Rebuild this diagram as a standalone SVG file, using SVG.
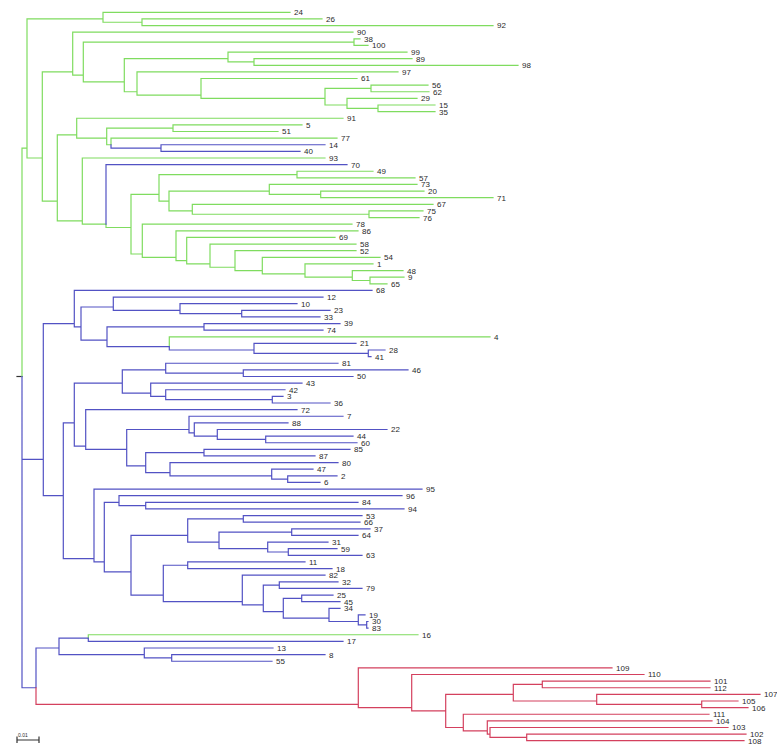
<svg xmlns="http://www.w3.org/2000/svg" width="777" height="753" viewBox="0 0 777 753">
<style>
path{fill:none;stroke-width:1.2;stroke-linecap:square}
.g{stroke:#7fdc5f}
.b{stroke:#5252c4}
.r{stroke:#d4405e}
.k{stroke:#333}
text{font-family:"Liberation Sans",Arial,sans-serif;font-size:8px;fill:#2a2a2a}
.s{font-size:5px}
</style>
<rect width="777" height="753" fill="#fff"/>
<g id="connectors">
<path class="k" d="M17,376.5H22"/>
<path class="g" d="M22,376.5V148.05H27
M27,148.05V18.92H103 M27,148.05V157.98H42.3
M103,18.92V12.3H290 M103,18.92V22.23H142
M142,22.23V18.92H322 M142,22.23V25.54H493
M42.3,157.98V71.9H72.7 M42.3,157.98V201.03H57.3
M72.7,71.9V32.17H353 M72.7,71.9V75.21H83.3
M83.3,75.21V42.1H354 M83.3,75.21V81.83H124.3
M354,42.1V38.79H360 M354,42.1V45.41H368
M124.3,81.83V58.65H228 M124.3,81.83V91.77H137
M228,58.65V52.03H407 M228,58.65V61.96H254
M254,61.96V58.65H412 M254,61.96V65.28H518
M137,91.77V71.9H398 M137,91.77V95.07H201
M201,95.07V78.52H357 M201,95.07V98.39H325
M325,98.39V88.45H371 M325,98.39V105.01H347
M371,88.45V85.14H428 M371,88.45V91.76H429
M347,105.01V98.39H417 M347,105.01V108.32H378
M378,108.32V105.01H435 M378,108.32V111.63H435
M57.3,201.03V134.8H76.7 M57.3,201.03V220.89H82.3
M76.7,134.8V118.25H343 M76.7,134.8V138.12H106.7
M106.7,138.12V128.18H173 M106.7,138.12V144.74H111
M173,128.18V124.87H302 M173,128.18V131.5H278
M111,144.74V138.12H337
M82.3,220.89V157.98H325 M82.3,220.89V224.2H106
M106,224.2V227.52H131
M131,227.52V194.4H159 M131,227.52V254H142.3
M159,194.4V174.54H297 M159,194.4V201.03H169
M297,174.54V171.23H373 M297,174.54V177.85H415
M169,201.03V191.09H269.3 M169,201.03V210.96H192.3
M269.3,191.09V184.47H417 M269.3,191.09V194.4H320.7
M320.7,194.4V191.09H424 M320.7,194.4V197.72H493
M192.3,210.96V204.34H433 M192.3,210.96V214.27H369
M369,214.27V210.96H423 M369,214.27V217.58H419
M142.3,254V224.2H352 M142.3,254V257.31H176
M176,257.31V230.83H358 M176,257.31V260.62H186.7
M186.7,260.62V237.45H335 M186.7,260.62V263.94H210
M210,263.94V244.07H356 M210,263.94V267.25H235
M235,267.25V250.69H356 M235,267.25V270.56H262.3
M262.3,270.56V257.31H380 M262.3,270.56V273.87H305
M305,273.87V263.94H373 M305,273.87V277.18H352.3
M352.3,277.18V270.56H403 M352.3,277.18V280.49H370
M370,280.49V277.18H404 M370,280.49V283.8H387
M169.3,346.71V336.78H490
M88.3,638.08V634.77H418"/>
<path class="b" d="M111,144.74V148.05H161
M161,148.05V144.74H325 M161,148.05V151.36H300
M106,224.2V164.61H347
M22,376.5V459.28H43.3
M22,376.5V687.75H36
M43.3,459.28V323.53H74.3 M43.3,459.28V495.71H63.3
M74.3,323.53V290.42H372 M74.3,323.53V326.84H81
M81,326.84V306.98H113.3 M81,326.84V340.09H107
M113.3,306.98V297.05H323 M113.3,306.98V310.29H180
M180,310.29V303.67H297 M180,310.29V313.6H241.7
M241.7,313.6V310.29H330 M241.7,313.6V316.91H320
M107,340.09V326.84H204 M107,340.09V346.71H169.3
M204,326.84V323.53H340 M204,326.84V330.16H323
M169.3,346.71V350.02H254
M254,350.02V343.4H356 M254,350.02V353.33H368.3
M368.3,353.33V350.02H385 M368.3,353.33V356.64H371
M63.3,495.71V422.86H74.3 M63.3,495.71V558.61H94
M74.3,422.86V383.13H122.3 M74.3,422.86V446.04H85.7
M122.3,383.13V369.89H165.7 M122.3,383.13V393.06H150.7
M165.7,369.89V363.27H338 M165.7,369.89V373.2H243.3
M243.3,373.2V369.89H408 M243.3,373.2V376.51H353
M150.7,393.06V383.13H302 M150.7,393.06V396.38H165.7
M165.7,396.38V389.75H285 M165.7,396.38V399.69H272.3
M272.3,399.69V396.38H283 M272.3,399.69V403H330
M85.7,446.04V409.62H297 M85.7,446.04V449.35H126.7
M126.7,449.35V429.49H189 M126.7,449.35V465.9H145.7
M189,429.49V416.24H343 M189,429.49V432.8H194.3
M194.3,432.8V422.86H288 M194.3,432.8V436.11H217.3
M217.3,436.11V429.49H387 M217.3,436.11V439.42H265.7
M265.7,439.42V436.11H353 M265.7,439.42V442.73H357
M145.7,465.9V452.66H204 M145.7,465.9V472.53H170
M204,452.66V449.35H350 M204,452.66V455.97H315
M170,472.53V462.6H338 M170,472.53V475.84H271.7
M271.7,475.84V469.22H313 M271.7,475.84V479.15H287.7
M287.7,479.15V475.84H337 M287.7,479.15V482.46H320
M94,558.61V489.08H422 M94,558.61V561.93H104.3
M104.3,561.93V502.33H119 M104.3,561.93V571.86H131
M119,502.33V495.71H402 M119,502.33V505.64H145.7
M145.7,505.64V502.33H358 M145.7,505.64V508.95H404
M131,571.86V535.44H187.7 M131,571.86V595.04H163.3
M187.7,535.44V518.88H243.3 M187.7,535.44V542.06H219
M243.3,518.88V515.57H362 M243.3,518.88V522.19H360
M219,542.06V532.13H291.7 M219,542.06V548.68H267.7
M291.7,532.13V528.82H370 M291.7,532.13V535.44H358
M267.7,548.68V542.06H328 M267.7,548.68V551.99H288.3
M288.3,551.99V548.68H337 M288.3,551.99V555.3H362
M163.3,595.04V565.24H187.7 M163.3,595.04V601.66H242.3
M187.7,565.24V561.93H305 M187.7,565.24V568.55H332
M242.3,601.66V575.17H325 M242.3,601.66V604.97H263.3
M263.3,604.97V585.1H279.3 M263.3,604.97V611.6H283.3
M279.3,585.1V581.79H338 M279.3,585.1V588.41H362
M283.3,611.6V598.35H301.7 M283.3,611.6V618.22H329
M301.7,598.35V595.04H333 M301.7,598.35V601.66H340
M329,618.22V608.28H340 M329,618.22V621.52H358.3
M358.3,621.52V614.9H365 M358.3,621.52V624.84H366.7
M366.7,624.84V621.52H368 M366.7,624.84V628.15H368
M36,687.75V648.01H59
M59,648.01V638.08H88.3 M59,648.01V654.63H144.3
M88.3,638.08V641.39H343
M144.3,654.63V648.01H273 M144.3,654.63V657.95H171.7
M171.7,657.95V654.63H325 M171.7,657.95V661.26H272"/>
<path class="r" d="M36,687.75V704.3H358.3
M358.3,704.3V667.88H612 M358.3,704.3V707.61H411.7
M411.7,707.61V674.5H644 M411.7,707.61V710.92H445.7
M445.7,710.92V694.37H513.3 M445.7,710.92V727.48H463.3
M513.3,694.37V684.43H542.3 M513.3,694.37V700.99H596.7
M542.3,684.43V681.12H710 M542.3,684.43V687.74H710
M596.7,700.99V694.37H760 M596.7,700.99V704.3H701.7
M701.7,704.3V700.99H738 M701.7,704.3V707.61H748
M463.3,727.48V714.23H709 M463.3,727.48V730.79H487.3
M487.3,730.79V720.85H712 M487.3,730.79V734.1H490
M490,734.1V727.48H728 M490,734.1V737.41H526.7
M526.7,737.41V734.1H746 M526.7,737.41V740.72H744"/>
</g>
<g id="leaves">
<g id="t24"><text x="294" y="15.2">24</text></g>
<g id="t26"><text x="326" y="21.8">26</text></g>
<g id="t92"><text x="497" y="28.4">92</text></g>
<g id="t90"><text x="357" y="35.1">90</text></g>
<g id="t38"><text x="364" y="41.7">38</text></g>
<g id="t100"><text x="372" y="48.3">100</text></g>
<g id="t99"><text x="411" y="54.9">99</text></g>
<g id="t89"><text x="416" y="61.6">89</text></g>
<g id="t98"><text x="522" y="68.2">98</text></g>
<g id="t97"><text x="402" y="74.8">97</text></g>
<g id="t61"><text x="361" y="81.4">61</text></g>
<g id="t56"><text x="432" y="88">56</text></g>
<g id="t62"><text x="433" y="94.7">62</text></g>
<g id="t29"><text x="421" y="101.3">29</text></g>
<g id="t15"><text x="439" y="107.9">15</text></g>
<g id="t35"><text x="439" y="114.5">35</text></g>
<g id="t91"><text x="347" y="121.2">91</text></g>
<g id="t5"><text x="306" y="127.8">5</text></g>
<g id="t51"><text x="282" y="134.4">51</text></g>
<g id="t77"><text x="341" y="141">77</text></g>
<g id="t14"><text x="329" y="147.6">14</text></g>
<g id="t40"><text x="304" y="154.3">40</text></g>
<g id="t93"><text x="329" y="160.9">93</text></g>
<g id="t70"><text x="351" y="167.5">70</text></g>
<g id="t49"><text x="377" y="174.1">49</text></g>
<g id="t57"><text x="419" y="180.8">57</text></g>
<g id="t73"><text x="421" y="187.4">73</text></g>
<g id="t20"><text x="428" y="194">20</text></g>
<g id="t71"><text x="497" y="200.6">71</text></g>
<g id="t67"><text x="437" y="207.2">67</text></g>
<g id="t75"><text x="427" y="213.9">75</text></g>
<g id="t76"><text x="423" y="220.5">76</text></g>
<g id="t78"><text x="356" y="227.1">78</text></g>
<g id="t86"><text x="362" y="233.7">86</text></g>
<g id="t69"><text x="339" y="240.4">69</text></g>
<g id="t58"><text x="360" y="247">58</text></g>
<g id="t52"><text x="360" y="253.6">52</text></g>
<g id="t54"><text x="384" y="260.2">54</text></g>
<g id="t1"><text x="377" y="266.8">1</text></g>
<g id="t48"><text x="407" y="273.5">48</text></g>
<g id="t9"><text x="408" y="280.1">9</text></g>
<g id="t65"><text x="391" y="286.7">65</text></g>
<g id="t68"><text x="376" y="293.3">68</text></g>
<g id="t12"><text x="327" y="300">12</text></g>
<g id="t10"><text x="301" y="306.6">10</text></g>
<g id="t23"><text x="334" y="313.2">23</text></g>
<g id="t33"><text x="324" y="319.8">33</text></g>
<g id="t39"><text x="344" y="326.4">39</text></g>
<g id="t74"><text x="327" y="333.1">74</text></g>
<g id="t4"><text x="494" y="339.7">4</text></g>
<g id="t21"><text x="360" y="346.3">21</text></g>
<g id="t28"><text x="389" y="352.9">28</text></g>
<g id="t41"><text x="375" y="359.5">41</text></g>
<g id="t81"><text x="342" y="366.2">81</text></g>
<g id="t46"><text x="412" y="372.8">46</text></g>
<g id="t50"><text x="357" y="379.4">50</text></g>
<g id="t43"><text x="306" y="386">43</text></g>
<g id="t42"><text x="289" y="392.7">42</text></g>
<g id="t3"><text x="287" y="399.3">3</text></g>
<g id="t36"><text x="334" y="405.9">36</text></g>
<g id="t72"><text x="301" y="412.5">72</text></g>
<g id="t7"><text x="347" y="419.1">7</text></g>
<g id="t88"><text x="292" y="425.8">88</text></g>
<g id="t22"><text x="391" y="432.4">22</text></g>
<g id="t44"><text x="357" y="439">44</text></g>
<g id="t60"><text x="361" y="445.6">60</text></g>
<g id="t85"><text x="354" y="452.3">85</text></g>
<g id="t87"><text x="319" y="458.9">87</text></g>
<g id="t80"><text x="342" y="465.5">80</text></g>
<g id="t47"><text x="317" y="472.1">47</text></g>
<g id="t2"><text x="341" y="478.7">2</text></g>
<g id="t6"><text x="324" y="485.4">6</text></g>
<g id="t95"><text x="426" y="492">95</text></g>
<g id="t96"><text x="406" y="498.6">96</text></g>
<g id="t84"><text x="362" y="505.2">84</text></g>
<g id="t94"><text x="408" y="511.9">94</text></g>
<g id="t53"><text x="366" y="518.5">53</text></g>
<g id="t66"><text x="364" y="525.1">66</text></g>
<g id="t37"><text x="374" y="531.7">37</text></g>
<g id="t64"><text x="362" y="538.3">64</text></g>
<g id="t31"><text x="332" y="545">31</text></g>
<g id="t59"><text x="341" y="551.6">59</text></g>
<g id="t63"><text x="366" y="558.2">63</text></g>
<g id="t11"><text x="309" y="564.8">11</text></g>
<g id="t18"><text x="336" y="571.5">18</text></g>
<g id="t82"><text x="329" y="578.1">82</text></g>
<g id="t32"><text x="342" y="584.7">32</text></g>
<g id="t79"><text x="366" y="591.3">79</text></g>
<g id="t25"><text x="337" y="597.9">25</text></g>
<g id="t45"><text x="344" y="604.6">45</text></g>
<g id="t34"><text x="344" y="611.2">34</text></g>
<g id="t19"><text x="369" y="617.8">19</text></g>
<g id="t30"><text x="372" y="624.4">30</text></g>
<g id="t83"><text x="372" y="631.1">83</text></g>
<g id="t16"><text x="422" y="637.7">16</text></g>
<g id="t17"><text x="347" y="644.3">17</text></g>
<g id="t13"><text x="277" y="650.9">13</text></g>
<g id="t8"><text x="329" y="657.5">8</text></g>
<g id="t55"><text x="276" y="664.2">55</text></g>
<g id="t109"><text x="616" y="670.8">109</text></g>
<g id="t110"><text x="648" y="677.4">110</text></g>
<g id="t101"><text x="714" y="684">101</text></g>
<g id="t112"><text x="714" y="690.6">112</text></g>
<g id="t107"><text x="764" y="697.3">107</text></g>
<g id="t105"><text x="742" y="703.9">105</text></g>
<g id="t106"><text x="752" y="710.5">106</text></g>
<g id="t111"><text x="713" y="717.1">111</text></g>
<g id="t104"><text x="716" y="723.8">104</text></g>
<g id="t103"><text x="732" y="730.4">103</text></g>
<g id="t102"><text x="750" y="737">102</text></g>
<g id="t108"><text x="748" y="743.6">108</text></g>
</g>
<g id="scale">
<path class="k" d="M17,737V742.5 M17,740H39 M39,737V742.5"/>
<text class="s" x="18" y="737">0.01</text>
</g>
</svg>
